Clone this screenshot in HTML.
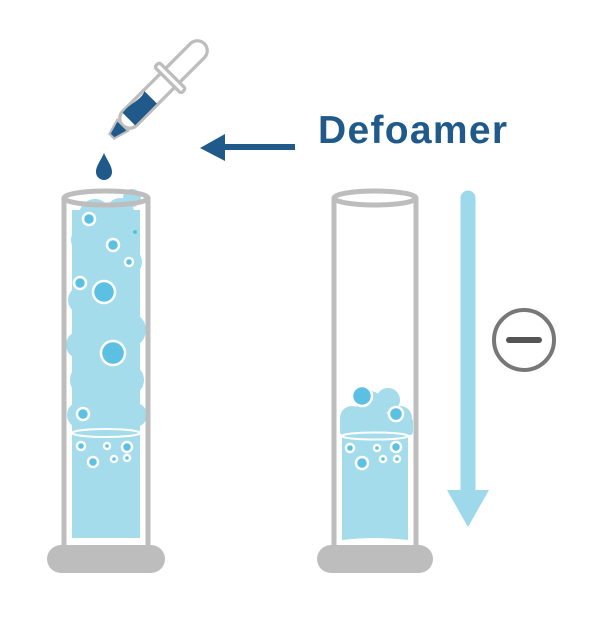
<!DOCTYPE html>
<html><head><style>html,body{margin:0;padding:0;background:#fff;}svg{display:block}</style></head>
<body>
<svg width="600" height="620" viewBox="0 0 600 620" xmlns="http://www.w3.org/2000/svg">
<!-- dropper -->
<g transform="translate(160,88) rotate(-45) scale(1.1)">
  <rect x="-48" y="-9" width="105" height="18" rx="9" fill="#fff" stroke="#bdbdbd" stroke-width="3"/>
  <rect x="10" y="-17" width="6" height="34" rx="2" fill="#fff" stroke="#bdbdbd" stroke-width="3"/>
  <path d="M-40,-8 C-30,-10 -20,-4 -12,-8 L-12,8 L-40,8 Z" fill="#1f5a8a"/>
  <path d="M-48,-7 L-62,-3 L-62,3 L-48,7 Z" fill="#1f5a8a" stroke="#bdbdbd" stroke-width="2"/>
</g>
<path d="M104,153 C100,162 96,166 96,172 A8,8 0 0 0 112,172 C112,166 108,162 104,153 Z" fill="#1f5a8a"/>
<!-- Defoamer arrow + text -->
<line x1="220" y1="147" x2="295" y2="147" stroke="#1f5a8a" stroke-width="6"/>
<polygon points="200,148 225,134 225,161" fill="#1f5a8a"/>
<text x="318" y="143" font-family="Liberation Sans, sans-serif" font-weight="bold" font-size="39" fill="#1f5a8a" textLength="189">Defoamer</text>
<!-- left tube -->
<g>
  <g fill="#a5dcec">
    <rect x="72" y="432" width="68" height="106" />
    <circle cx="95" cy="215" r="16"/><circle cx="120" cy="212" r="14"/><circle cx="132" cy="198" r="9"/>
    <circle cx="85" cy="240" r="14"/><circle cx="112" cy="245" r="20"/><circle cx="128" cy="262" r="14"/>
    <circle cx="90" cy="275" r="18"/><circle cx="118" cy="290" r="20"/><circle cx="82" cy="300" r="14"/>
    <circle cx="100" cy="320" r="20"/><circle cx="128" cy="330" r="18"/><circle cx="80" cy="345" r="14"/>
    <circle cx="110" cy="355" r="22"/><circle cx="88" cy="380" r="18"/><circle cx="128" cy="380" r="16"/>
    <circle cx="108" cy="400" r="20"/><circle cx="80" cy="415" r="13"/><circle cx="135" cy="415" r="12"/>
    <circle cx="100" cy="422" r="14"/><circle cx="122" cy="422" r="14"/>
    <rect x="72" y="210" width="68" height="225"/>
  </g>
  <ellipse cx="106" cy="433" rx="34" ry="4" fill="none" stroke="#fff" stroke-width="2"/>
  <g fill="#5bc0e2" stroke="#fff" stroke-width="2.5">
    <circle cx="89" cy="219" r="6"/><circle cx="113" cy="245" r="6"/><circle cx="129" cy="262" r="4"/>
    <circle cx="80" cy="283" r="6"/><circle cx="104" cy="292" r="11"/><circle cx="113" cy="353" r="12"/>
    <circle cx="83" cy="414" r="6"/>
    <circle cx="81" cy="446" r="4"/><circle cx="107" cy="446" r="3"/><circle cx="127" cy="447" r="5"/>
    <circle cx="93" cy="462" r="5"/><circle cx="114" cy="459" r="3"/><circle cx="127" cy="458" r="3"/>
  </g>
  <circle cx="135" cy="232" r="2" fill="#5bc0e2"/>
  <line x1="64" y1="198" x2="64" y2="548" stroke="#bdbdbd" stroke-width="5"/>
  <line x1="148" y1="198" x2="148" y2="548" stroke="#bdbdbd" stroke-width="5"/>
  <ellipse cx="106" cy="198" rx="42" ry="7" fill="none" stroke="#bdbdbd" stroke-width="5"/>
  <rect x="47" y="545" width="118" height="28" rx="14" fill="#bdbdbd"/>
</g>
<!-- right tube -->
<g>
  <g fill="#a5dcec">
    <path d="M342,435 L408,435 L408,540 Q375,536 342,540 Z"/>
    <circle cx="352" cy="418" r="12"/><circle cx="370" cy="405" r="14"/><circle cx="388" cy="400" r="12"/>
    <circle cx="400" cy="418" r="12"/><circle cx="375" cy="420" r="14"/>
    <rect x="340" y="418" width="73" height="17" rx="3"/>
  </g>
  <ellipse cx="375" cy="436" rx="33" ry="3.5" fill="none" stroke="#fff" stroke-width="2"/>
  <g fill="#5bc0e2" stroke="#fff" stroke-width="2.5">
    <circle cx="362" cy="396" r="10"/><circle cx="396" cy="414" r="7"/>
    <circle cx="350" cy="448" r="4"/><circle cx="377" cy="448" r="3"/><circle cx="396" cy="447" r="5"/>
    <circle cx="362" cy="463" r="6"/><circle cx="383" cy="459" r="3"/><circle cx="397" cy="459" r="3"/>
  </g>
  <line x1="334" y1="198" x2="334" y2="548" stroke="#bdbdbd" stroke-width="5"/>
  <line x1="416" y1="198" x2="416" y2="548" stroke="#bdbdbd" stroke-width="5"/>
  <ellipse cx="375" cy="198" rx="41" ry="7" fill="none" stroke="#bdbdbd" stroke-width="5"/>
  <rect x="317" y="545" width="116" height="28" rx="14" fill="#bdbdbd"/>
</g>
<!-- down arrow -->
<line x1="468" y1="198" x2="468" y2="495" stroke="#9dd9ea" stroke-width="15" stroke-linecap="round"/>
<polygon points="447,490 489,490 468,527" fill="#9dd9ea"/>
<!-- minus -->
<circle cx="524" cy="340" r="30" fill="none" stroke="#777" stroke-width="4"/>
<line x1="509" y1="340" x2="539" y2="340" stroke="#555" stroke-width="6" stroke-linecap="round"/>
</svg>
</body></html>
